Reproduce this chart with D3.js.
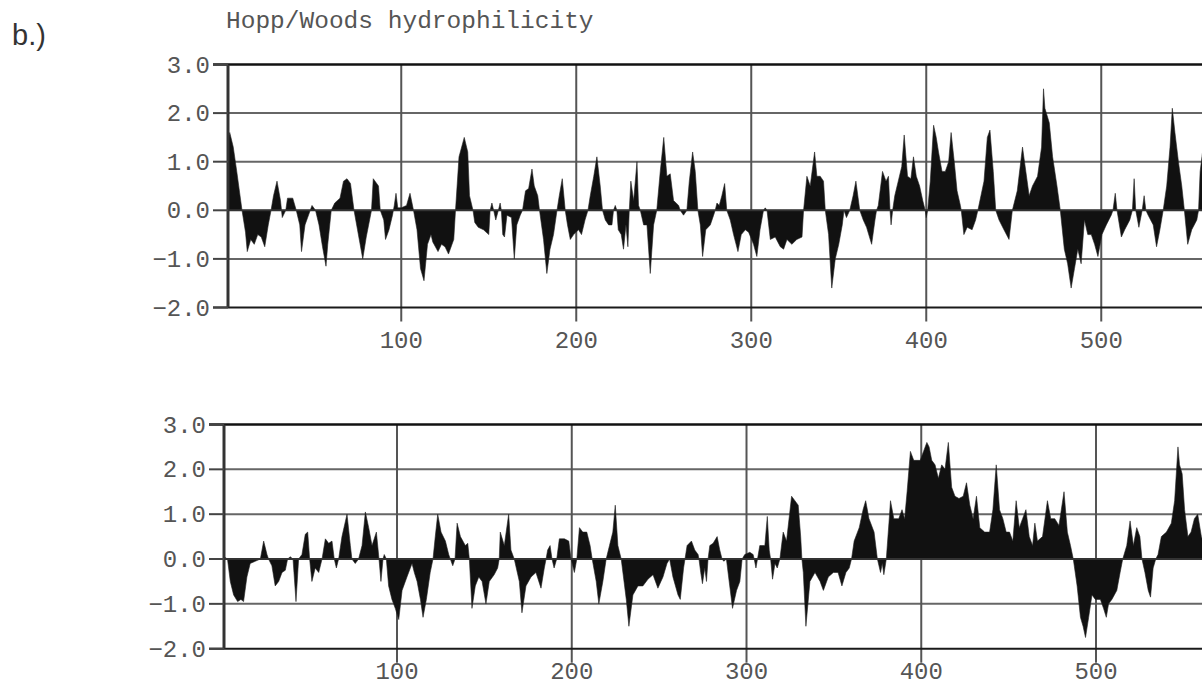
<!DOCTYPE html>
<html>
<head>
<meta charset="utf-8">
<script src="https://cdn.jsdelivr.net/npm/d3@7"></script>
<style>
    body { margin: 0; background: #fff; }
    svg { display: block; }
</style>
</head>
<body>
<div id="chart"></div>
<script>
// chart data
const panelLabel = "b.)";
const titleText = "Hopp/Woods hydrophilicity";
const yTicks = [-2, -1, 0, 1, 2, 3];
const xTicks = [100, 200, 300, 400, 500];

// [residue, hydrophilicity]
const topProfile = [
    [1, 1.45], [2, 1.6], [4, 1.3], [6, 0.8], [9, 0], [11, -0.45], [12, -0.85], [14, -0.6], [16, -0.7],
    [18, -0.5], [20, -0.55], [22, -0.75], [24, -0.3], [25.6, 0], [27, 0.3], [29, 0.6], [31, 0.2],
    [32, -0.15], [34, 0], [35, 0.25], [38, 0.25], [40, 0], [42, -0.3], [43, -0.85], [45, -0.3],
    [46, -0.2], [48, 0], [49, 0.1], [51, 0], [53, -0.3], [55, -0.75], [57, -1.15], [58, -0.7], [60, 0],
    [62, 0.15], [65, 0.25], [67, 0.6], [69, 0.65], [71, 0.55], [73, 0], [75, -0.4], [78, -1.0],
    [80, -0.55], [83, 0], [84, 0.65], [87, 0.5], [88, 0], [90, -0.2], [91, -0.6], [93, -0.4], [95, -0.1],
    [96, 0.1], [97, 0.35], [98, 0.05], [100, 0.05], [103, 0.1], [105, 0.35], [107, 0], [109, -0.4],
    [111, -1.2], [113, -1.45], [115, -0.7], [117, -0.5], [118, -0.65], [121, -0.85], [123, -0.7],
    [125, -0.75], [127, -0.9], [130, -0.6], [131, 0], [133, 1.1], [136, 1.5], [138, 1.2], [139, 0.3],
    [141, 0], [142, -0.25], [144, -0.35], [147, -0.4], [150, -0.5], [150.8, 0], [151.8, 0.15],
    [152.8, 0], [154, -0.2], [155.5, 0], [156.5, 0.15], [157.2, 0], [158, -0.5], [159, -0.55],
    [160.4, -0.1], [163, -0.15], [164.6, -1.0], [166, -0.3], [168, -0.1], [169.3, 0], [171, 0.4],
    [172.8, 0.45], [174.7, 0.85], [176, 0.5], [178, 0.3], [179, 0], [181.3, -0.6], [183.2, -1.3],
    [185, -0.8], [187, -0.5], [189, 0], [190.3, 0.3], [192, 0.65], [193.7, 0], [195, -0.3],
    [196.6, -0.6], [198.5, -0.5], [201.3, -0.4], [203, -0.5], [205, -0.2], [206.7, 0], [208, 0.3],
    [210, 0.7], [211.8, 1.1], [213.7, 0.5], [215, 0], [216.6, -0.2], [218.5, -0.3], [220.4, -0.3],
    [221.3, 0], [222.3, 0.1], [223.2, 0], [224, -0.4], [225.7, -0.5], [227, -0.8], [228.4, -0.3],
    [229.5, -0.75], [230.3, 0], [231.2, 0.6], [232.8, 0.2], [234.7, 1.0], [235.6, 0.1], [236.6, 0],
    [238.5, -0.3], [240.4, -0.3], [242.3, -1.3], [244.2, -0.3], [246, 0], [248, 0.8], [250, 1.5],
    [251.8, 0.7], [253.7, 0.75], [255.6, 0.2], [258.5, 0.1], [259.4, 0], [261.3, -0.1], [263.2, 0],
    [264.6, 0.6], [266.5, 1.2], [268, 0.8], [269.5, 0], [270.9, -0.3], [272.2, -0.95], [274, -0.4],
    [276.6, -0.3], [278.5, -0.1], [279.4, 0], [280.4, 0.15], [281.7, 0.1], [283.2, 0.3], [284.8, 0.55],
    [286, 0], [288, -0.2], [289.9, -0.5], [292.4, -0.85], [294.3, -0.5], [296.6, -0.4], [298.5, -0.45],
    [301.3, -0.7], [303.2, -0.95], [305, -0.4], [307, 0], [308, 0.05], [309, 0], [310.9, -0.6],
    [313.7, -0.55], [316.6, -0.75], [318.5, -0.8], [320.4, -0.6], [323.2, -0.7], [326, -0.6],
    [329, -0.55], [329.9, 0], [331.8, 0.7], [333.7, 0.5], [336.2, 1.2], [337.5, 0.7], [339.4, 0.7],
    [341.3, 0.6], [342.3, 0], [344.2, -0.5], [346, -1.6], [348, -1.0], [350, -0.7], [352, -0.3],
    [353, 0], [354.4, -0.15], [356.3, 0], [358.2, 0.3], [359.8, 0.6], [362, 0], [364, -0.2],
    [365.9, -0.35], [368.8, -0.7], [370.7, -0.2], [371.6, 0], [372.6, 0.1], [375, 0.8], [377, 0.6],
    [378.4, 0.7], [379.3, 0], [379.9, -0.3], [380.8, 0], [382, 0.3], [384, 0.6], [386, 0.9],
    [387.4, 1.55], [389.3, 0.7], [391.2, 0.65], [392.7, 1.1], [394.3, 0.7], [396.2, 0.5], [398, 0.2],
    [399.4, 0], [400, -0.15], [400.8, 0], [402.3, 0.6], [404.2, 1.75], [405.7, 1.5], [407, 1.2],
    [409, 0.8], [410.9, 0.8], [412.8, 1.0], [414.2, 1.6], [416, 1.0], [417.6, 0.4], [419.5, 0.1],
    [420, 0], [421.5, -0.5], [423.4, -0.35], [426.2, -0.4], [428.2, -0.2], [429.5, 0], [433, 0.6],
    [434.9, 1.5], [436.4, 1.65], [438.3, 0.8], [439.7, 0], [441.6, -0.2], [444.4, -0.4], [447.3, -0.6],
    [449.2, 0], [452, 0.4], [455, 1.3], [456.9, 0.8], [458.8, 0.3], [460.7, 0.5], [463.6, 0.7],
    [465.9, 1.3], [467, 2.5], [467.8, 2.1], [470.3, 1.8], [472.2, 1.1], [474.7, 0.5], [476.6, 0],
    [478.9, -0.8], [480.8, -1.1], [482.8, -1.6], [484.7, -1.2], [486.6, -0.8], [488.5, -1.1],
    [490.4, -0.2], [492.3, -0.5], [494.3, -0.5], [496.2, -0.7], [498.1, -0.95], [500.4, -0.5],
    [502.9, -0.3], [505.7, -0.1], [506.7, 0], [508, 0.35], [509, 0], [511.5, -0.55], [513.4, -0.4],
    [516.3, -0.2], [517.8, 0], [518.8, 0.65], [519.7, 0], [521.5, -0.35], [523.4, 0], [524.5, 0.3],
    [525.5, 0], [526.8, -0.1], [529.7, -0.3], [531.6, -0.75], [533.5, -0.4], [535.4, 0], [537.4, 0.5],
    [539.3, 1.3], [540.6, 2.1], [542.1, 1.6], [544.1, 1.0], [546, 0.5], [547.5, 0], [549.4, -0.7],
    [551.7, -0.4], [554.6, -0.2], [555.6, 0], [556.5, 0.8], [557.9, 1.2], [560, 1.0], [562, 0.4],
    [564, 0]
];

// [residue, hydrophilicity]
const bottomProfile = [
    [1, 0.05], [3, 0], [4.6, -0.5], [6.5, -0.8], [8.8, -0.95], [10.7, -0.9], [12.2, -0.95], [14.1, -0.4],
    [16, -0.1], [18.9, -0.05], [21.8, 0], [23.7, 0.4], [25.6, 0.1], [26.5, 0], [28.4, -0.15],
    [30.3, -0.6], [32.3, -0.5], [34.2, -0.3], [36.1, -0.25], [37.4, 0], [38.9, 0.05], [40.5, 0],
    [42.2, -0.95], [43.7, 0], [45.6, 0.1], [47.5, 0.55], [48.9, 0.6], [50, 0], [51.3, -0.5],
    [53.2, -0.2], [55.2, -0.3], [57.1, 0], [59, 0.45], [60.9, 0.35], [62.8, 0.4], [64.1, 0],
    [65.3, -0.2], [66.6, 0], [68.5, 0.5], [71.4, 1.0], [73.3, 0.3], [74.2, 0], [76.1, -0.1], [78, 0],
    [80, 0.3], [81.9, 1.05], [83.8, 0.7], [85.7, 0.3], [88.2, 0.6], [89.7, 0], [90.8, -0.5], [92, 0],
    [92.7, 0.1], [93.9, 0], [95.2, -0.6], [97.1, -0.9], [99, -1.1], [101, -1.35], [102.9, -0.7],
    [105.7, -0.4], [108.6, -0.1], [109.9, -0.3], [111.5, -0.5], [113.4, -0.9], [114.9, -1.3],
    [116.8, -0.9], [119, -0.3], [120.6, 0], [121.9, 0.5], [123.3, 1.0], [125.2, 0.6], [127.7, 0.4],
    [129.6, 0.1], [130.5, 0], [131.9, -0.15], [133.2, 0], [134.4, 0.8], [136.3, 0.5], [139.1, 0.3],
    [140.5, 0.35], [141.4, 0], [142.9, -1.1], [144.8, -0.6], [146.8, -0.4], [148.7, -0.5],
    [150.9, -1.0], [152.8, -0.5], [155.6, -0.35], [157.6, -0.2], [158.5, 0], [159.1, 0.6],
    [161.4, 0.3], [163.9, 1.0], [165.2, 0.2], [167.1, 0], [170, -0.5], [171.5, -1.2], [173.8, -0.6],
    [176.7, -0.4], [179.5, -0.3], [182.4, -0.65], [184.3, -0.2], [185.3, 0], [186.2, 0.2],
    [187.6, 0.3], [188.7, 0], [189.9, -0.2], [191.4, 0], [192.9, 0.45], [195.8, 0.45], [198.3, 0.4],
    [199.6, 0], [201.5, -0.3], [202.9, 0], [204.4, 0.7], [206.3, 0.6], [208.6, 0.6], [210.5, 0.3],
    [211.7, 0], [214, -0.5], [215.5, -1.0], [217.8, -0.5], [219.7, 0], [221.6, 0.3], [223.5, 0.6],
    [224.9, 1.2], [226.4, 0.3], [228.3, 0], [231.2, -0.9], [232.7, -1.5], [235, -0.8], [237.9, -0.6],
    [240.7, -0.6], [243.6, -0.45], [246.5, -0.35], [249.3, -0.65], [252.2, -0.4], [254.5, -0.1],
    [256, 0], [257.9, -0.4], [260.8, -0.8], [262.1, -0.9], [264, -0.2], [264.8, 0], [266, 0.3],
    [268.5, 0.4], [270.4, 0.2], [272.3, 0.1], [272.8, 0], [273.8, -0.3], [274.8, -0.55], [276.1, -0.2],
    [277.1, -0.5], [278, 0], [279, 0.3], [280.9, 0.35], [283.2, 0.5], [284.7, 0.2], [286, 0],
    [287, -0.05], [288.5, 0], [290.4, -0.6], [292, -1.1], [294.3, -0.7], [296.2, -0.5], [297.5, 0],
    [299, 0.1], [301.9, 0.15], [303.8, 0.1], [304.4, 0], [305.4, -0.2], [306.3, 0], [307.6, 0.3],
    [310.5, 0.3], [311.9, 0.95], [313, 0.2], [313.8, 0], [314.9, -0.45], [316.3, -0.1], [317.6, -0.2],
    [319.1, 0], [321, 0.6], [322.9, 0.4], [325.8, 1.4], [327.7, 1.3], [329.6, 1.2], [331, 0.5],
    [331.7, 0], [332.5, -0.3], [334, -1.5], [336.3, -0.5], [339.2, -0.3], [342.1, -0.5], [344, -0.7],
    [346.8, -0.4], [349.7, -0.3], [352.4, -0.3], [354.6, -0.6], [356.9, -0.3], [358.8, -0.2],
    [360.1, 0], [361.6, 0.4], [364.5, 0.7], [366.7, 1.1], [368.2, 1.3], [370.1, 0.9], [373, 0.6],
    [374.9, 0], [376.7, -0.3], [377.7, -0.1], [378.6, -0.35], [380, 0], [381.5, 0.8], [382.4, 1.3],
    [384.3, 0.9], [387.1, 0.9], [389, 1.1], [390.5, 0.9], [391.9, 1.5], [393.8, 2.4], [395.7, 2.2],
    [399.4, 2.2], [401.3, 2.4], [403.2, 2.6], [404.5, 2.5], [406, 2.2], [407.9, 2.1], [409.8, 1.8],
    [411.7, 2.1], [413.6, 2.0], [415.5, 2.6], [417.4, 1.6], [419.3, 1.4], [421.6, 1.35], [424, 1.4],
    [425.9, 1.7], [427.8, 1.2], [429.7, 0.9], [431.6, 1.4], [433.5, 0.7], [436.3, 0.6], [439.1, 0.6],
    [441, 1.1], [442.9, 2.1], [444.8, 1.1], [446.7, 0.9], [448.6, 0.6], [450.5, 0.6], [452.4, 0.4],
    [454.3, 1.3], [456.1, 0.7], [458, 0.9], [459.9, 1.1], [461.8, 0.5], [463.7, 0.3], [465, 0.8],
    [466.5, 0.4], [469.4, 0.5], [472.2, 1.3], [474.1, 0.9], [476.4, 0.9], [478.8, 0.75], [481.7, 1.5],
    [483.6, 0.6], [485.4, 0.3], [487, 0], [489.2, -0.6], [491.1, -1.3], [492.6, -1.5], [494, -1.75],
    [495.8, -1.3], [497.7, -0.8], [499.6, -0.9], [502.5, -0.9], [504.3, -1.1], [505.9, -1.3],
    [507.2, -1.0], [509.1, -0.9], [511.9, -0.7], [513.8, -0.3], [515.3, 0], [517.6, 0.3], [519.5, 0.85],
    [521.4, 0.3], [523.3, 0.7], [525.1, 0.5], [526.3, 0], [528, -0.3], [529.9, -0.7], [531.2, -0.85],
    [532.7, -0.2], [534.2, 0], [535.5, 0.1], [537.4, 0.5], [540.3, 0.6], [543.1, 0.8], [545, 1.3],
    [546.9, 2.5], [547.8, 2.1], [549.3, 1.9], [550.7, 1.1], [552.6, 0.5], [554.4, 0.6], [556.3, 0.9],
    [558.2, 1.0], [560.3, 0.5], [562, 0.3], [564, 0]
];

const width = 1202;
const height = 688;
const monoFont = "'Liberation Mono', 'Courier New', monospace";
const fontSize = 24;

const svg = d3.select("#chart")
    .append("svg")
    .attr("width", width)
    .attr("height", height);

svg.append("text")
    .attr("x", 12)
    .attr("y", 45)
    .attr("font-family", "'Liberation Sans', Arial, sans-serif")
    .attr("font-size", 29)
    .attr("fill", "#333")
    .text(panelLabel);

svg.append("text")
    .attr("x", 226)
    .attr("y", 28)
    .attr("font-family", monoFont)
    .attr("font-size", 24.5)
    .attr("fill", "#555")
    .text(titleText);

function drawPanel(data, {left, top, bottom, pxPerResidue, labelGap}) {
    const x = d3.scaleLinear()
        .domain([1, 600])
        .range([left, left + 599 * pxPerResidue]);
    const y = d3.scaleLinear()
        .domain([-2, 3])
        .range([bottom, top]);

    const g = svg.append("g");

    // grid
    g.selectAll(".hgrid")
        .data(yTicks.filter(t => t !== 3 && t !== -2 && t !== 0))
        .join("line")
        .attr("x1", left).attr("x2", width)
        .attr("y1", d => y(d)).attr("y2", d => y(d))
        .attr("stroke", "#666")
        .attr("stroke-width", 2);

    g.selectAll(".vgrid")
        .data(xTicks)
        .join("line")
        .attr("x1", d => x(d)).attr("x2", d => x(d))
        .attr("y1", top).attr("y2", bottom + 14)
        .attr("stroke", "#555")
        .attr("stroke-width", 2);

    // profile
    const area = d3.area()
        .x(d => x(d[0]))
        .y0(y(0))
        .y1(d => y(d[1]));

    g.append("path")
        .datum(data)
        .attr("d", area)
        .attr("fill", "#111")
        .attr("stroke", "#222")
        .attr("stroke-width", 0.6);

    // zero line
    g.append("line")
        .attr("x1", left).attr("x2", width)
        .attr("y1", y(0)).attr("y2", y(0))
        .attr("stroke", "#333")
        .attr("stroke-width", 2);

    // frame
    g.append("line")
        .attr("x1", left - 15).attr("x2", width)
        .attr("y1", top).attr("y2", top)
        .attr("stroke", "#111")
        .attr("stroke-width", 2.5);

    g.append("line")
        .attr("x1", left - 15).attr("x2", width)
        .attr("y1", bottom).attr("y2", bottom)
        .attr("stroke", "#1a1a1a")
        .attr("stroke-width", 2);

    g.append("line")
        .attr("x1", left).attr("x2", left)
        .attr("y1", top).attr("y2", bottom)
        .attr("stroke", "#333")
        .attr("stroke-width", 3);

    // y ticks and labels
    g.selectAll(".ytick")
        .data(yTicks)
        .join("line")
        .attr("x1", left - 15).attr("x2", left)
        .attr("y1", d => y(d)).attr("y2", d => y(d))
        .attr("stroke", "#444")
        .attr("stroke-width", 2);

    g.selectAll(".ylabel")
        .data(yTicks)
        .join("text")
        .attr("x", left - 18)
        .attr("y", d => y(d) + 8)
        .attr("text-anchor", "end")
        .attr("font-family", monoFont)
        .attr("font-size", fontSize)
        .attr("fill", "#555")
        .text(d => d3.format(".1f")(d));

    g.selectAll(".xlabel")
        .data(xTicks)
        .join("text")
        .attr("x", d => x(d))
        .attr("y", bottom + labelGap)
        .attr("text-anchor", "middle")
        .attr("font-family", monoFont)
        .attr("font-size", fontSize)
        .attr("fill", "#555")
        .text(d => d);
}

drawPanel(topProfile, {left: 228, top: 64.5, bottom: 307.5, pxPerResidue: 1.75, labelGap: 40});
drawPanel(bottomProfile, {left: 224, top: 424.5, bottom: 648.7, pxPerResidue: 1.7475, labelGap: 30});
</script>
</body>
</html>
